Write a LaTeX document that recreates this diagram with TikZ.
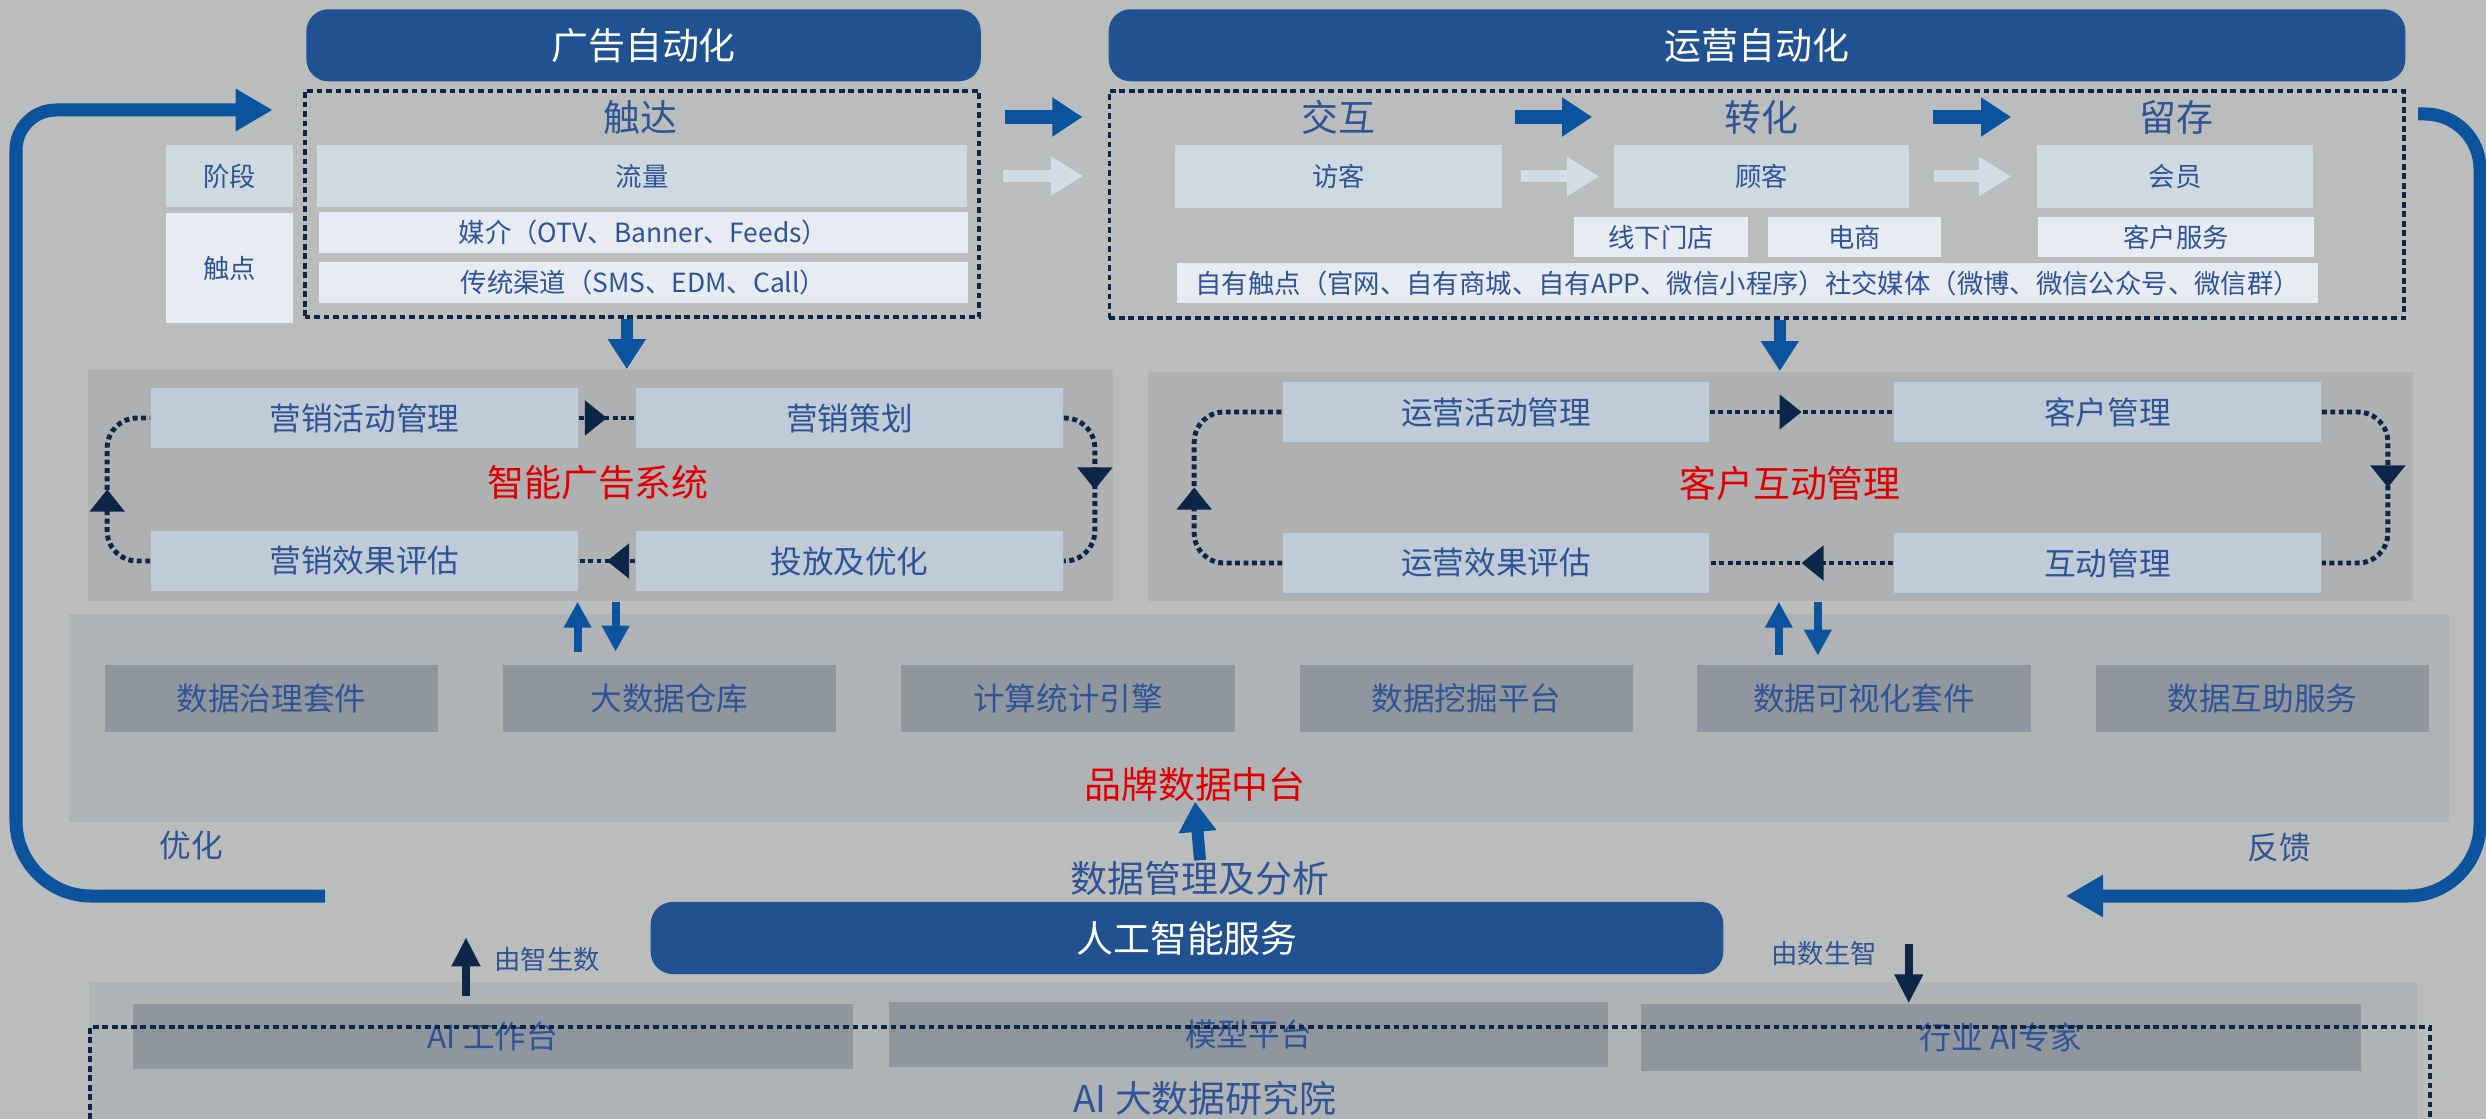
\documentclass[tikz,border=0pt]{standalone}
\usepackage{fontspec}
\setmainfont{Noto Sans CJK SC}
\usetikzlibrary{positioning,arrows.meta,decorations.markings}

\definecolor{pagebg}{RGB}{187,189,188}
\definecolor{titleblue}{RGB}{32,81,145}
\definecolor{arrowblue}{RGB}{11,83,156}
\definecolor{txtblue}{RGB}{47,84,150}
\definecolor{navy}{RGB}{13,38,71}
\definecolor{hotred}{RGB}{224,0,0}
\definecolor{stagefill}{RGB}{207,217,224}
\definecolor{touchfill}{RGB}{232,235,242}
\definecolor{panelfill}{RGB}{174,176,178}
\definecolor{loopfill}{RGB}{191,204,215}
\definecolor{datagrey}{RGB}{176,179,181}
\definecolor{datafill}{RGB}{143,150,158}
\definecolor{ghostgrey}{RGB}{212,221,228}

\newcommand{\bigfont}{\fontsize{10.5pt}{12pt}\selectfont}
\newcommand{\midfont}{\fontsize{9pt}{11pt}\selectfont}
\newcommand{\smallfont}{\fontsize{7.5pt}{9pt}\selectfont}

\tikzset{
  titlebox/.style={rectangle, rounded corners=0.22cm, fill=titleblue, text=white, font=\bigfont, inner sep=0pt},
  dotline/.style={draw=navy, line width=1.1pt, dash pattern=on 1.6pt off 1.1pt},
  dotbox/.style={dotline, rectangle, inner sep=0pt},
  stagelbl/.style={text=txtblue, font=\bigfont, inner sep=0pt},
  smalllbl/.style={text=txtblue, font=\smallfont, inner sep=0pt},
  redlbl/.style={text=hotred, font=\bigfont, inner sep=0pt},
  stagebox/.style={rectangle, fill=stagefill, text=txtblue, font=\smallfont, inner sep=0pt},
  touchbox/.style={rectangle, fill=touchfill, text=txtblue, font=\smallfont, inner sep=0pt},
  panel/.style={rectangle, fill=panelfill, inner sep=0pt},
  loopbox/.style={rectangle, fill=loopfill, text=txtblue, font=\midfont, inner sep=0pt, minimum width=4.27cm, minimum height=0.60cm},
  datacell/.style={rectangle, fill=datafill, text=txtblue, font=\midfont, inner sep=0pt, minimum width=3.33cm, minimum height=0.67cm},
  bigarrow/.style={draw=arrowblue, line width=0.14cm, -{Triangle[length=0.30cm,width=0.37cm]}},
  ghostarrow/.style={draw=ghostgrey, line width=0.12cm, -{Triangle[length=0.32cm,width=0.37cm]}},
  downarrow/.style={draw=arrowblue, line width=0.12cm, -{Triangle[length=0.30cm,width=0.36cm]}},
  thinblue/.style={draw=arrowblue, line width=0.08cm, -{Triangle[length=0.26cm,width=0.26cm]}},
  navyarrow/.style={draw=navy, line width=0.08cm, -{Triangle[length=0.29cm,width=0.27cm]}},
  feedback/.style={draw=arrowblue, line width=0.13cm, -{Triangle[length=0.37cm,width=0.40cm]}},
  loopline/.style={draw=navy, line width=1.4pt, dash pattern=on 1.4pt off 1pt, rounded corners=0.3cm,
    postaction={decorate}, decoration={markings, mark=at position 0.5 with {\arrow{Triangle[length=0.22cm,width=0.34cm]}}}}
}

\begin{document}
\begin{tikzpicture}[x=0.01cm, y=-0.01cm]
\useasboundingbox (0,0) rectangle (2486,1119);
\fill[pagebg] (0,0) rectangle (2486,1119);

% top titles
\node[titlebox, minimum width=6.74cm, minimum height=0.72cm] (adtitle) at (643.6,45.3) {广告自动化};
\node[titlebox, minimum width=12.96cm, minimum height=0.72cm] (opstitle) at (1757,45.3) {运营自动化};

% reach / operation frames
\node[dotbox, minimum width=6.74cm, minimum height=2.26cm] (reachbox) at (641.8,203.9) {};
\node[dotbox, minimum width=12.94cm, minimum height=2.27cm] (opsbox) at (1756.8,204.5) {};

\node[stagelbl] (reach) at (640,117) {触达};
\node[stagelbl] (interact) at (1338,117) {交互};
\node[stagelbl] (convert) at (1761.5,117) {转化};
\node[stagelbl] (retain) at (2176,117) {留存};

\node[stagebox, minimum width=1.27cm, minimum height=0.62cm] (phase) at (229.5,176) {阶段};
\node[touchbox, minimum width=1.27cm, minimum height=1.10cm] (touch) at (229.5,268) {触点};
\node[stagebox, minimum width=6.50cm, minimum height=0.62cm] (traffic) at (642,176) {流量};
\node[touchbox, minimum width=6.49cm, minimum height=0.41cm] (media) at (643.5,232.5) {媒介（OTV、Banner、Feeds）};
\node[touchbox, minimum width=6.49cm, minimum height=0.41cm] (channel) at (643.5,282.5) {传统渠道（SMS、EDM、Call）};

\node[stagebox, minimum width=3.27cm, minimum height=0.63cm] (visitor) at (1338.5,176.5) {访客};
\node[stagebox, minimum width=2.95cm, minimum height=0.63cm] (customer) at (1761.5,176.5) {顾客};
\node[stagebox, minimum width=2.76cm, minimum height=0.63cm] (member) at (2175,176.5) {会员};
\node[touchbox, minimum width=1.74cm, minimum height=0.40cm] (offline) at (1661,237) {线下门店};
\node[touchbox, minimum width=1.73cm, minimum height=0.40cm] (ecom) at (1854.5,237) {电商};
\node[touchbox, minimum width=2.76cm, minimum height=0.40cm] (service) at (2176,237) {客户服务};
\node[touchbox, minimum width=11.40cm, minimum height=0.40cm] (owned) at (1747.7,283) {自有触点（官网、自有商城、自有APP、微信小程序）社交媒体（微博、微信公众号、微信群）};

\draw[bigarrow, shorten <=0.24cm, shorten >=0.25cm] (reachbox.east |- reach) -- (opsbox.west |- reach);
\draw[ghostarrow, shorten <=0.35cm, shorten >=0.91cm] (traffic.east) -- (visitor.west |- traffic);
\draw[bigarrow, shorten <=0.12cm, shorten >=0.21cm] (visitor.east |- interact) -- (customer.west |- interact);
\draw[ghostarrow, shorten <=0.18cm, shorten >=0.14cm] (visitor.east) -- (customer.west);
\draw[bigarrow, shorten <=0.23cm, shorten >=0.25cm] (customer.east |- convert) -- (member.west |- convert);
\draw[ghostarrow, shorten <=0.24cm, shorten >=0.25cm] (customer.east) -- (member.west);

% system panels
\node[panel, minimum width=10.24cm, minimum height=2.31cm] (adpanel) at (600.6,485.4) {};
\node[panel, minimum width=12.64cm, minimum height=2.29cm] (opspanel) at (1780.8,486.4) {};

\draw[downarrow] ([xshift=-0.15cm]reachbox.south) -- ([xshift=-0.15cm]reachbox.south |- adpanel.north);
\draw[downarrow] ([xshift=0.23cm]opsbox.south) -- ([xshift=0.23cm]opsbox.south |- opspanel.north);

\node[loopbox] (campaign) at (364.5,418) {营销活动管理};
\node[loopbox] (planning) at (849.5,418) {营销策划};
\node[loopbox] (evaluate) at (364.5,561) {营销效果评估};
\node[loopbox] (deliver) at (849.5,561) {投放及优化};
\node[redlbl] (adsys) at (598,483) {智能广告系统};

\draw[loopline] (campaign.east) -- (planning.west);
\draw[loopline] (planning.east) -- ++(31,0) |- (deliver.east);
\draw[loopline] (deliver.west) -- (evaluate.east);
\draw[loopline] (evaluate.west) -- ++(-43,0) |- (campaign.west);

\node[loopbox, minimum width=4.26cm] (opscamp) at (1496,412) {运营活动管理};
\node[loopbox] (crm) at (2107.5,412) {客户管理};
\node[loopbox, minimum width=4.26cm] (opseval) at (1496,563) {运营效果评估};
\node[loopbox] (engage) at (2107.5,563) {互动管理};
\node[redlbl] (cim) at (1790,483) {客户互动管理};

\draw[loopline] (opscamp.east) -- (crm.west);
\draw[loopline] (crm.east) -- ++(66,0) |- (engage.east);
\draw[loopline] (engage.west) -- (opseval.east);
\draw[loopline] (opseval.west) -- ++(-88,0) |- (opscamp.west);

% data middle platform
\node[rectangle, fill=datagrey, inner sep=0pt, minimum width=23.79cm, minimum height=2.08cm] (databg) at (1259,718) {};

\draw[thinblue] ([xshift=-0.23cm,yshift=-0.5cm]adpanel.south) -- ([xshift=-0.23cm]adpanel.south);
\draw[thinblue] ([xshift=0.15cm]adpanel.south) -- ([xshift=0.15cm,yshift=-0.5cm]adpanel.south);
\draw[thinblue] ([xshift=-0.02cm,yshift=-0.53cm]opspanel.south) -- ([xshift=-0.02cm]opspanel.south);
\draw[thinblue] ([xshift=0.37cm]opspanel.south) -- ([xshift=0.37cm,yshift=-0.54cm]opspanel.south);

\node[datacell] (govern) at (271.5,698.5) {数据治理套件};
\node[datacell] (warehouse) at (669.5,698.5) {大数据仓库};
\node[datacell] (compute) at (1068,698.5) {计算统计引擎};
\node[datacell] (mining) at (1466.5,698.5) {数据挖掘平台};
\node[datacell] (visual) at (1864,698.5) {数据可视化套件};
\node[datacell] (mutual) at (2262.5,698.5) {数据互助服务};
\node[redlbl] (midplat) at (1195,784) {品牌数据中台};
\node[stagelbl] (manage) at (1200,878) {数据管理及分析};
\draw[downarrow] (manage.north) -- (midplat.south);

% feedback loops
\coordinate (optstart) at (325,896);
\coordinate (fbstart) at (2418,114);
\coordinate (fbend) at (2066,896);
\draw[feedback] (optstart) [rounded corners=0.75cm] -| (16,500) [rounded corners=0.4cm] -- (16,110) -- ([xshift=-0.30cm,yshift=0.07cm]reachbox.west |- reach);
\draw[feedback] (fbstart) [rounded corners=0.55cm] -- ++(62,0) -- (2480,500) [rounded corners=0.72cm] |- (fbend);
\node[stagelbl, font=\midfont] (optim) at (191,845) {优化};
\node[stagelbl, font=\midfont] (feedbk) at (2279,848) {反馈};

% AI layer
\node[titlebox, minimum width=10.72cm, minimum height=0.72cm] (aiserve) at (1187,938) {人工智能服务};
\node[rectangle, fill=datagrey, inner sep=0pt, minimum width=23.26cm, minimum height=1.37cm] (aibg) at (1253,1050.5) {};
\node[datacell, minimum width=7.20cm, minimum height=0.65cm] (aiwork) at (493,1036.5) {AI 工作台};
\node[datacell, minimum width=7.19cm, minimum height=0.65cm] (modelplat) at (1248.5,1034.5) {模型平台};
\node[datacell, minimum width=7.20cm, minimum height=0.67cm] (aiexpert) at (2000.8,1037.5) {行业 AI专家};
\node[stagelbl] (aiinst) at (1205,1098) {AI 大数据研究院};
\draw[dotline] (90,1119) |- (2430,1027) -- (2430,1119);

\draw[navyarrow] ([xshift=-0.27cm,yshift=0.07cm]aiwork.north) -- ([xshift=-0.27cm,yshift=0.66cm]aiwork.north);
\draw[navyarrow] ([xshift=-0.92cm,yshift=0.59cm]aiexpert.north) -- ([xshift=-0.92cm]aiexpert.north);
\node[smalllbl] (ai2data) at (547,959) {由智生数};
\node[smalllbl] (data2ai) at (1824,953) {由数生智};

\end{tikzpicture}
\end{document}
